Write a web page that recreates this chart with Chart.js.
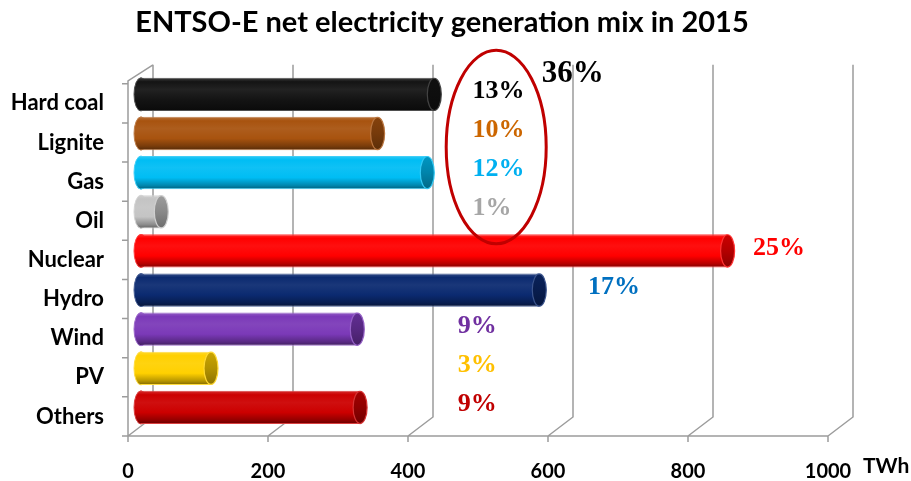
<!DOCTYPE html>
<html>
<head>
<meta charset="utf-8">
<script src="https://cdn.jsdelivr.net/npm/chart.js@4/dist/chart.umd.min.js"></script>
<style>
  html, body { margin: 0; padding: 0; background: #fff; }
  canvas { display: block; }
</style>
</head>
<body>
<canvas id="mix" width="911" height="481"></canvas>
<script>
// Net electricity generation by source, ENTSO-E area, 2015 (TWh)
const categories = ['Hard coal', 'Lignite', 'Gas', 'Oil', 'Nuclear', 'Hydro', 'Wind', 'PV', 'Others'];
const generationTWh = [419, 338, 409, 29, 838, 569, 309, 100, 313];
const xTicks = [0, 200, 400, 600, 800, 1000];
// Fossil sources grouped in the highlighted block
const fossilSources = ['Hard coal', 'Lignite', 'Gas', 'Oil'];

// Styling
const barColors   = ['#141414', '#A8530F', '#00BDF4', '#C4C4C4', '#FF0000', '#0B2A70', '#7B39B8', '#FFD000', '#CC0000'];
const labelColors = ['#000000', '#CC6600', '#00B0F0', '#A6A6A6', '#FF0000', '#0070C0', '#7030A0', '#FFC000', '#C00000'];
// where each share label starts, in TWh along the axis
const labelAtTWh  = [492, 492, 492, 492, 893, 657, 471, 471, 471];

const DEPTH = { x: 25, y: -19 };
const GRID = '#9c9c9c';

function mix(hex, other, t) {
  const a = parseInt(hex.slice(1), 16), b = parseInt(other.slice(1), 16);
  const ch = (v, s) => (v >> s) & 255;
  const r = Math.round(ch(a,16) + (ch(b,16) - ch(a,16)) * t);
  const g = Math.round(ch(a,8) + (ch(b,8) - ch(a,8)) * t);
  const bl = Math.round(ch(a,0) + (ch(b,0) - ch(a,0)) * t);
  return `rgb(${r},${g},${bl})`;
}
const lighten = (c, t) => mix(c, '#ffffff', t);
const darken  = (c, t) => mix(c, '#000000', t);

function tubeGradient(ctx, color, top, bottom) {
  const g = ctx.createLinearGradient(0, top, 0, bottom);
  g.addColorStop(0, lighten(color, 0.18));
  g.addColorStop(0.12, color);
  g.addColorStop(0.35, lighten(color, 0.06));
  g.addColorStop(0.65, color);
  g.addColorStop(0.88, darken(color, 0.28));
  g.addColorStop(1, darken(color, 0.5));
  return g;
}

const total = generationTWh.reduce((a, b) => a + b, 0);
const shares = generationTWh.map(v => Math.round(v / total * 100));
const fossilShare = Math.round(
  categories.reduce((s, c, i) => s + (fossilSources.includes(c) ? generationTWh[i] : 0), 0) / total * 100);

const BAR_PCT = 0.85;

function barHalfHeight(chart) {
  const y = chart.scales.y;
  return (y.height / categories.length) * BAR_PCT / 2;
}

// 3D frame, cylinder end caps and share annotations
const tubePlugin = {
  id: 'tubes',
  beforeDatasetsDraw(chart) {
    const { ctx, chartArea: a, scales: { x, y } } = chart;
    ctx.save();
    ctx.strokeStyle = GRID;
    ctx.lineWidth = 1.5;
    ctx.beginPath();
    // back wall lines and floor diagonals
    xTicks.forEach(v => {
      const px = x.getPixelForValue(v);
      ctx.moveTo(px, a.bottom);
      ctx.lineTo(px + DEPTH.x, a.bottom + DEPTH.y);
      ctx.lineTo(px + DEPTH.x, a.top + DEPTH.y);
      // tick marks below the front edge
      ctx.moveTo(px, a.bottom);
      ctx.lineTo(px, a.bottom + 6);
    });
    // front floor edge
    ctx.moveTo(a.left, a.bottom);
    ctx.lineTo(x.getPixelForValue(1000), a.bottom);
    // left wall
    ctx.moveTo(a.left, a.bottom);
    ctx.lineTo(a.left, a.top - 3);
    ctx.lineTo(a.left + DEPTH.x, a.top + DEPTH.y);
    // category separators on the left edge
    const step = y.height / categories.length;
    for (let i = 0; i <= categories.length; i++) {
      const py = a.top + i * step;
      ctx.moveTo(a.left - 6, py);
      ctx.lineTo(a.left, py);
    }
    ctx.stroke();
    ctx.restore();

    // bars sit halfway into the depth
    ctx.save();
    ctx.translate(Math.round(DEPTH.x / 2), Math.round(DEPTH.y / 2));
    const meta = chart.getDatasetMeta(0);
    const hh = barHalfHeight(chart);
    meta.data.forEach((el, i) => {
      const c = barColors[i];
      ctx.beginPath();
      ctx.ellipse(el.base, el.y, 7, hh, 0, 0, Math.PI * 2);
      ctx.fillStyle = tubeGradient(ctx, c, el.y - hh, el.y + hh);
      ctx.fill();
      ctx.lineWidth = 1;
      ctx.strokeStyle = lighten(c, 0.25);
      ctx.stroke();
    });
  },
  afterDatasetsDraw(chart) {
    const { ctx } = chart;
    const meta = chart.getDatasetMeta(0);
    const hh = barHalfHeight(chart);
    meta.data.forEach((el, i) => {
      const c = barColors[i];
      const g = ctx.createLinearGradient(0, el.y - hh, 0, el.y + hh);
      g.addColorStop(0, darken(c, 0.2));
      g.addColorStop(0.5, darken(c, 0.3));
      g.addColorStop(1, darken(c, 0.45));
      ctx.beginPath();
      ctx.ellipse(el.x, el.y, 7, hh - 0.5, 0, 0, Math.PI * 2);
      ctx.fillStyle = g;
      ctx.fill();
      ctx.lineWidth = 1.2;
      ctx.strokeStyle = lighten(c, 0.2);
      ctx.stroke();
    });
    ctx.restore();
  },
  afterDraw(chart) {
    const { ctx, chartArea: a, scales: { x, y } } = chart;
    ctx.save();
    // unit next to the last tick
    ctx.font = 'bold 21px Lato';
    ctx.fillStyle = '#000';
    ctx.textBaseline = 'middle';
    ctx.textAlign = 'left';
    ctx.fillText('TWh', x.getPixelForValue(1000) + 35, a.bottom + 30);

    // share of each source
    ctx.font = 'bold 26px "Liberation Serif"';
    shares.forEach((s, i) => {
      ctx.fillStyle = labelColors[i];
      ctx.fillText(s + '%', x.getPixelForValue(labelAtTWh[i]), y.getPixelForValue(i) - 12);
    });

    // fossil block outline and its combined share
    const top = y.getPixelForValue(0), bot = y.getPixelForValue(3);
    const cx = x.getPixelForValue(526);
    const cy = (top + bot) / 2 - 15;
    ctx.beginPath();
    ctx.ellipse(cx, cy, 50, (bot - top) / 2 + 38, 0, 0, Math.PI * 2);
    ctx.lineWidth = 3;
    ctx.strokeStyle = '#C00000';
    ctx.stroke();

    ctx.font = 'bold 31px "Liberation Serif"';
    ctx.fillStyle = '#000';
    ctx.fillText(fossilShare + '%', x.getPixelForValue(591), a.top - 10);
    ctx.restore();
  }
};

new Chart(document.getElementById('mix'), {
  type: 'bar',
  data: {
    labels: categories,
    datasets: [{
      data: generationTWh,
      backgroundColor: (c) => {
        const col = barColors[c.dataIndex] || '#999';
        if (c.type !== 'data') return col;
        const ch = c.chart;
        if (!ch.scales || !ch.scales.y || !ch.chartArea) return col;
        const cy = ch.scales.y.getPixelForValue(c.dataIndex);
        const hh = barHalfHeight(ch);
        return tubeGradient(ch.ctx, col, cy - hh, cy + hh);
      },
      borderColor: (c) => lighten(barColors[c.dataIndex] || '#999999', 0.25),
      borderWidth: 1,
      borderSkipped: 'start',
      categoryPercentage: 1,
      barPercentage: BAR_PCT,
      clip: false
    }]
  },
  options: {
    indexAxis: 'y',
    responsive: false,
    animation: false,
    events: [],
    layout: { padding: { left: 0, right: 27, top: 0, bottom: 0 } },
    plugins: {
      legend: { display: false },
      tooltip: { enabled: false },
      title: {
        display: true,
        text: 'ENTSO-E net electricity generation mix in 2015',
        color: '#000',
        font: { family: 'Lato', size: 29, weight: 'bold' },
        padding: { top: 5, bottom: 44 }
      }
    },
    scales: {
      x: {
        min: 0, max: 1000,
        ticks: {
          stepSize: 200,
          color: '#000',
          font: { family: 'Lato', size: 20, weight: 'bold' },
          padding: 16,
          maxRotation: 0,
          callback: v => String(v)
        },
        grid: { display: false },
        border: { display: false },
        afterFit: s => { s.height = 45; }
      },
      y: {
        ticks: {
          color: '#000',
          font: { family: 'Lato', size: 22, weight: 'bold' },
          padding: 16
        },
        grid: { display: false },
        border: { display: false },
        afterFit: s => { s.width = 128; }
      },
      // empty right-hand margin that holds the depth of the 3D frame and the unit
      depth: {
        type: 'category',
        axis: 'y',
        position: 'right',
        display: true,
        ticks: { display: false },
        grid: { display: false },
        border: { display: false },
        afterFit: s => { s.width = 56; }
      }
    }
  },
  plugins: [tubePlugin]
});
</script>
</body>
</html>
